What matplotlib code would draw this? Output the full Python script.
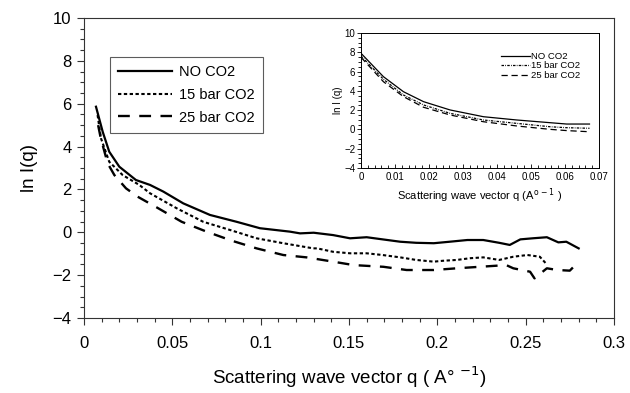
import matplotlib
matplotlib.use("Agg")
import matplotlib.pyplot as plt
from matplotlib.ticker import MultipleLocator

plt.rcParams['font.family'] = ['Liberation Sans', 'DejaVu Sans']

# ---- main data ----
q_no = [0.0068, 0.0106, 0.0143, 0.020, 0.0294, 0.0374, 0.0449, 0.0562, 0.0713, 0.0864,
        0.0996, 0.1166, 0.1223, 0.130, 0.141, 0.1506, 0.160, 0.169, 0.179, 0.188, 0.198,
        0.207, 0.217, 0.226, 0.235, 0.241, 0.247, 0.254, 0.262, 0.2685, 0.273, 0.280]
v_no = [5.86, 4.69, 3.76, 3.06, 2.44, 2.21, 1.90, 1.35, 0.81, 0.49,
        0.19, 0.03, -0.05, -0.02, -0.13, -0.28, -0.23, -0.33, -0.44, -0.49, -0.51,
        -0.44, -0.36, -0.36, -0.49, -0.59, -0.33, -0.28, -0.23, -0.47, -0.44, -0.75]

q_15 = [0.0077, 0.0096, 0.0143, 0.0219, 0.0313, 0.0374, 0.0525, 0.0675, 0.0826, 0.0977,
        0.1128, 0.1298, 0.132, 0.141, 0.1506, 0.160, 0.169, 0.179, 0.188, 0.198, 0.203,
        0.211, 0.2185, 0.226, 0.235, 0.243, 0.251, 0.258, 0.262]
v_15 = [5.47, 4.39, 3.29, 2.67, 2.21, 1.82, 1.12, 0.49, 0.11, -0.28,
        -0.51, -0.75, -0.75, -0.91, -0.98, -0.98, -1.06, -1.17, -1.29, -1.37, -1.33,
        -1.29, -1.21, -1.17, -1.29, -1.14, -1.06, -1.14, -1.5]

q_25 = [0.0080, 0.0095, 0.0134, 0.0172, 0.0238, 0.0304, 0.041, 0.0553, 0.0694, 0.0836,
        0.0977, 0.1128, 0.1260, 0.141, 0.1526, 0.1695, 0.1826, 0.198, 0.211, 0.224,
        0.239, 0.243, 0.2525, 0.255, 0.262, 0.268, 0.275, 0.279]
v_25 = [5.0, 4.39, 3.22, 2.67, 2.05, 1.66, 1.17, 0.49, 0.03, -0.39,
        -0.75, -1.06, -1.17, -1.37, -1.53, -1.61, -1.76, -1.76, -1.68, -1.61,
        -1.53, -1.68, -1.84, -2.15, -1.68, -1.76, -1.79, -1.45]

# ---- inset data ----
qi = [0.0, 0.0066, 0.0125, 0.0184, 0.0262, 0.036, 0.0458, 0.0556, 0.0605, 0.0672]
vi_no = [7.9, 5.47, 3.91, 2.88, 2.02, 1.32, 0.98, 0.70, 0.56, 0.56]
vi_15 = [7.62, 5.2, 3.57, 2.54, 1.67, 0.98, 0.63, 0.28, 0.18, 0.12]
vi_25 = [7.48, 4.95, 3.40, 2.30, 1.50, 0.80, 0.36, 0.01, -0.12, -0.24]

labels = ["NO CO2", "15 bar CO2", "25 bar CO2"]

fig = plt.figure(figsize=(6.3, 3.93), dpi=100)
ax = fig.add_axes([0.1333, 0.1908, 0.8413, 0.7634])

ax.plot(q_no, v_no, color='black', lw=1.6, label=labels[0])
ax.plot(q_15, v_15, color='black', lw=1.5, linestyle=(0, (1.6, 1.2)), label=labels[1])
ax.plot(q_25, v_25, color='black', lw=1.7, linestyle=(0, (5, 4)), label=labels[2])

ax.set_xlim(0, 0.3)
ax.set_ylim(-4, 10)
ax.set_xticks([0, 0.05, 0.1, 0.15, 0.2, 0.25, 0.3])
ax.set_xticklabels(["0", "0.05", "0.1", "0.15", "0.2", "0.25", "0.3"])
ax.set_yticks([-4, -2, 0, 2, 4, 6, 8, 10])
ax.xaxis.set_minor_locator(MultipleLocator(0.01))
ax.yaxis.set_minor_locator(MultipleLocator(0.5))
ax.tick_params(which='both', direction='out', labelsize=12, width=0.8, color='#333333')
ax.tick_params(which='major', length=5)
ax.tick_params(which='minor', length=3)
ax.tick_params(axis='x', pad=8)
ax.tick_params(axis='y', pad=4)
for s in ax.spines.values():
    s.set_linewidth(0.8)
    s.set_color('#333333')
ax.set_xlabel("Scattering wave vector q ( A\u00b0 $^{-1}$)", fontsize=13.5, labelpad=10)
ax.set_ylabel("ln I(q)", fontsize=13.5, labelpad=10)

leg = ax.legend(loc='upper left', bbox_to_anchor=(0.049, 0.87), borderaxespad=0,
                fontsize=10.5, frameon=True, fancybox=False, edgecolor='#333333',
                handlelength=3.7, borderpad=0.55, labelspacing=0.6, handletextpad=0.5)
leg.get_frame().set_linewidth(0.8)

# ---- inset ----
axi = fig.add_axes([0.573, 0.5725, 0.3778, 0.3435])
axi.plot(qi, vi_no, color='black', lw=0.9, label=labels[0])
axi.plot(qi, vi_15, color='black', lw=0.9, linestyle=(0, (2, 1, 0.6, 1)), label=labels[1])
axi.plot(qi, vi_25, color='black', lw=0.9, linestyle=(0, (5, 3)), label=labels[2])
axi.set_xlim(0, 0.07)
axi.set_ylim(-4, 10)
axi.set_xticks([0, 0.01, 0.02, 0.03, 0.04, 0.05, 0.06, 0.07])
axi.set_xticklabels(["0", "0.01", "0.02", "0.03", "0.04", "0.05", "0.06", "0.07"])
axi.set_yticks([-4, -2, 0, 2, 4, 6, 8, 10])
axi.xaxis.set_minor_locator(MultipleLocator(0.002))
axi.yaxis.set_minor_locator(MultipleLocator(0.5))
axi.tick_params(axis='x', which='both', direction='in', labelsize=7, pad=3)
axi.tick_params(axis='y', which='both', direction='out', labelsize=7, pad=1)
axi.tick_params(which='major', length=3, width=0.6)
axi.tick_params(which='minor', length=2, width=0.6)
for s in axi.spines.values():
    s.set_linewidth(0.7)
axi.set_xlabel("Scattering wave vector q (A$^{\\mathrm{o}\\,-1}$ )", fontsize=8, labelpad=3)
axi.set_ylabel("ln I (q)", fontsize=7, labelpad=1)
axi.legend(loc='upper right', bbox_to_anchor=(0.92, 0.86), borderaxespad=0,
           fontsize=6.8, frameon=False, handlelength=3.0, labelspacing=0.05,
           handletextpad=0.1, borderpad=0.0)

fig.savefig("out.png", dpi=100)
